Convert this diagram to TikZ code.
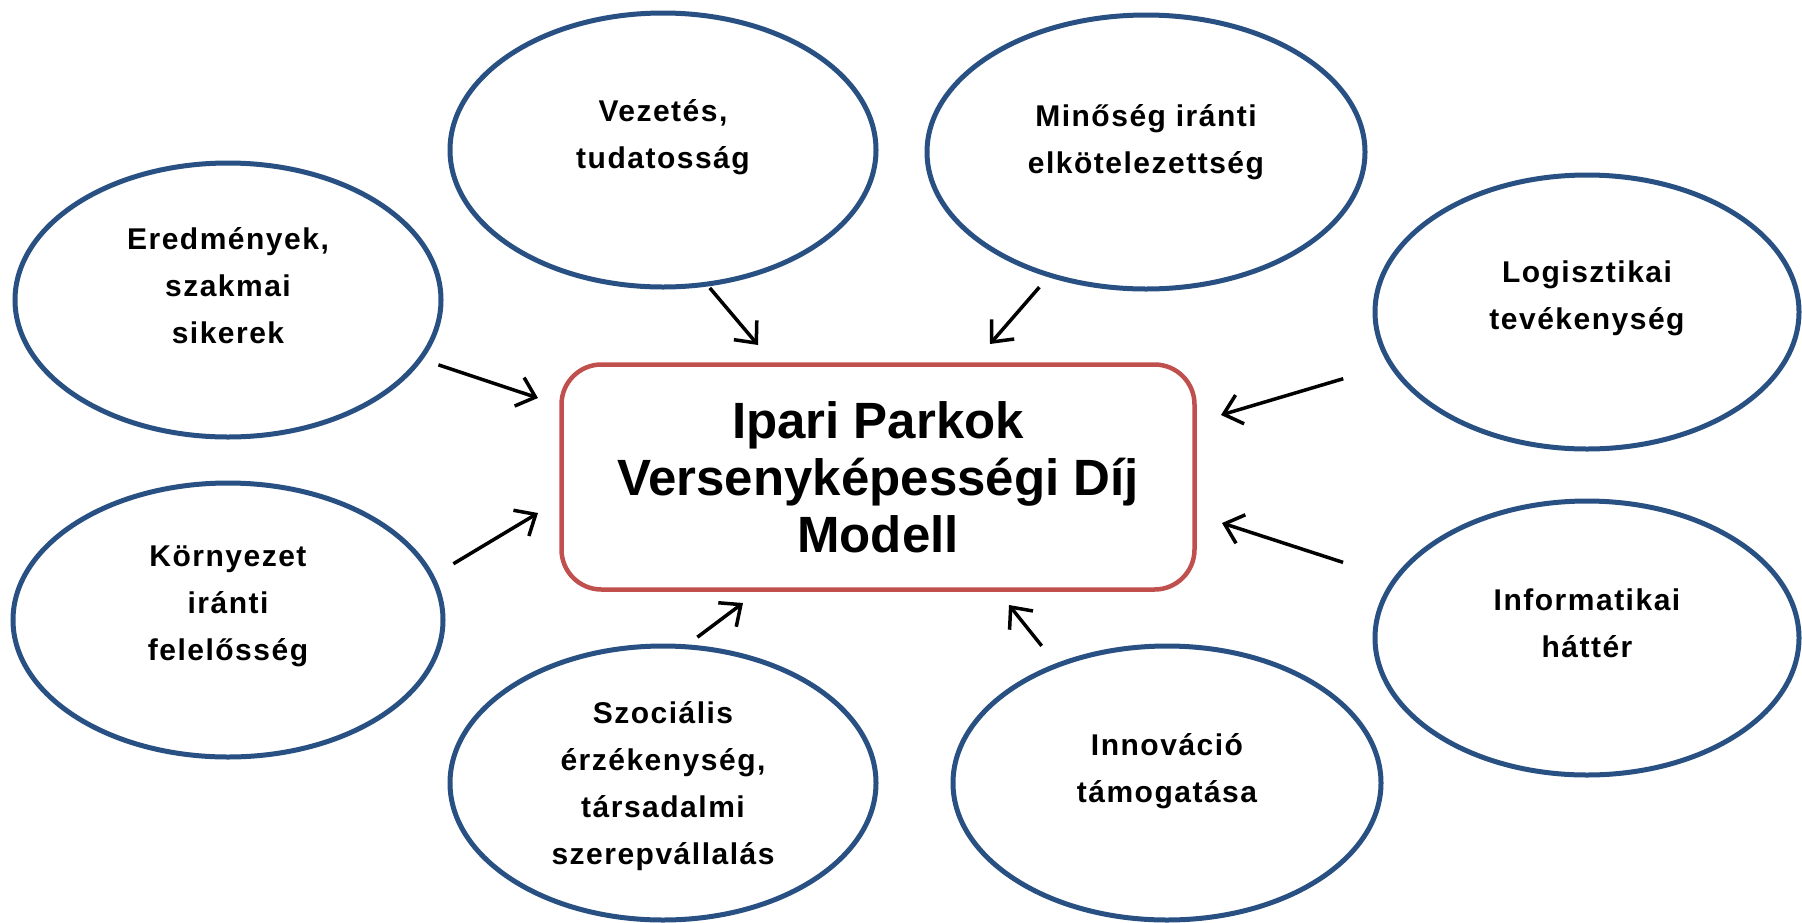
\documentclass[tikz,border=0pt]{standalone}
\usepackage{fontspec}
\setmainfont{Liberation Sans}
\newfontfamily\ellfont[LetterSpace=5]{Liberation Sans}
\usetikzlibrary{shapes.geometric,arrows.meta}
\definecolor{ellblue}{RGB}{40,80,130}
\definecolor{boxred}{RGB}{192,80,77}
\tikzset{
  ell/.style={draw=ellblue, line width=5pt, ellipse, inner sep=0pt, outer sep=0pt},
  lbl/.style={align=center, font=\ellfont\bfseries\fontsize{30}{47}\selectfont},
  centerbox/.style={draw=boxred, line width=4.5pt, rounded corners=40pt, minimum width=633pt, minimum height=225pt, inner sep=0pt, align=center, font=\bfseries\fontsize{51}{57}\selectfont},
  arr/.style={draw=black, line width=3.5pt, -{Straight Barb[length=17pt,width=30pt]}}
}
\begin{document}
\begin{tikzpicture}[x=1pt,y=-1pt]
\useasboundingbox (0,0) rectangle (1802,922);
% center box
\node[centerbox] (c) at (878,477) {Ipari Parkok\\Versenyképességi Díj\\Modell};
% ellipses
\node[ell, minimum width=426pt, minimum height=274pt] (e1) at (228,300) {};
\node[ell, minimum width=426pt, minimum height=274pt] (e2) at (663,150) {};
\node[ell, minimum width=438pt, minimum height=274pt] (e3) at (1146,152) {};
\node[ell, minimum width=424pt, minimum height=274pt] (e4) at (1587,312) {};
\node[ell, minimum width=430pt, minimum height=274pt] (e5) at (228,620) {};
\node[ell, minimum width=424pt, minimum height=274pt] (e6) at (1587,638) {};
\node[ell, minimum width=426pt, minimum height=274pt] (e7) at (663,783) {};
\node[ell, minimum width=428pt, minimum height=274pt] (e8) at (1167,783) {};
% labels
\node[lbl] (t1) at (228,286) {Eredmények,\\szakmai\\sikerek};
\node[lbl] (t2) at (663,137) {Vezetés,\\tudatosság};
\node[lbl] (t3) at (1146,142) {Minőség iránti\\elkötelezettség};
\node[lbl] (t4) at (1587,298) {Logisztikai\\tevékenység};
\node[lbl] (t5) at (228,606) {Környezet\\iránti\\felelősség};
\node[lbl] (t6) at (1587,623) {Informatikai\\háttér};
\node[lbl] (t7) at (663,786) {Szociális\\érzékenység,\\társadalmi\\szerepvállalás};
\node[lbl] (t8) at (1167,771) {Innováció\\támogatása};
% arrow tips
\coordinate (a1) at (538,398);
\coordinate (a2) at (758,345);
\coordinate (a3) at (990,344);
\coordinate (a4) at (1221,415);
\coordinate (a5) at (538,513);
\coordinate (a6) at (1222,523);
\coordinate (a7) at (743,603);
\coordinate (a8) at (1009,605);
% arrows
\draw[arr, shorten <=19pt] (e1.-17) -- (a1);
\draw[arr, shorten <=5pt] (e2.-72) -- (a2);
\draw[arr, shorten <=16pt] (e3.-128) -- (a3);
\draw[arr, shorten <=50pt] (e4.-165.8) -- (a4);
\draw[arr, shorten <=25pt] (e5.12.7) -- (a5);
\draw[arr, shorten <=55pt] (e6.163.4) -- (a6);
\draw[arr, shorten <=16pt] (e7.81.4) -- (a7);
\draw[arr, shorten <=25pt] (e8.133.7) -- (a8);
\end{tikzpicture}
\end{document}
